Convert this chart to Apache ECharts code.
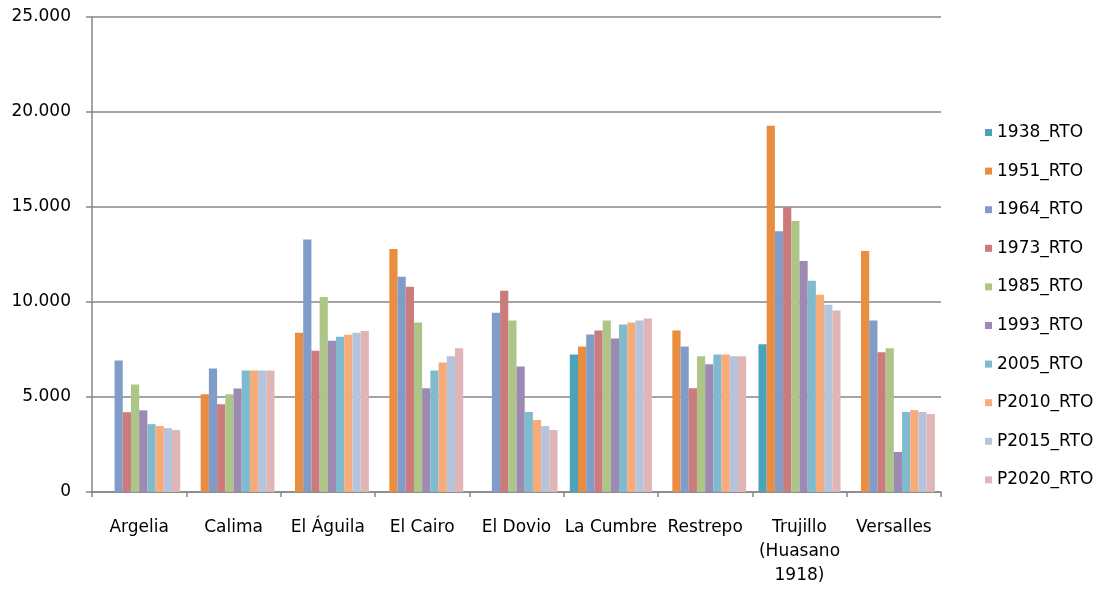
<!DOCTYPE html>
<html>
<head>
<meta charset="utf-8">
<script src="https://cdn.jsdelivr.net/npm/echarts@6/dist/echarts.min.js"></script>
<style>
html,body{margin:0;padding:0;background:#fff;}
#chart{width:1099px;height:590px;}
</style>
</head>
<body>
<div id="chart"></div>
<script>
const categories = ['Argelia','Calima','El Águila','El Cairo','El Dovio','La Cumbre','Restrepo','Trujillo\n(Huasano\n1918)','Versalles'];
const seriesNames = ['1938_RTO','1951_RTO','1964_RTO','1973_RTO','1985_RTO','1993_RTO','2005_RTO','P2010_RTO','P2015_RTO','P2020_RTO'];
const yTicks = [0, 5000, 10000, 15000, 20000, 25000];

const s1938  = [null, null, null, null, null, 7240, null, 7770, null];
const s1951  = [null, 5140, 8380, 12790, null, 7660, 8500, 19280, 12690];
const s1964  = [6920, 6500, 13290, 11330, 9440, 8290, 7660, 13730, 9020];
const s1973  = [4200, 4620, 7440, 10800, 10590, 8500, 5460, 14990, 7350];
const s1985  = [5660, 5140, 10260, 8920, 9020, 9020, 7140, 14260, 7560];
const s1993  = [4300, 5450, 7960, 5460, 6610, 8080, 6720, 12160, 2110];
const s2005  = [3570, 6390, 8170, 6400, 4210, 8810, 7240, 11120, 4210];
const sP2010 = [3470, 6390, 8270, 6820, 3790, 8920, 7240, 10380, 4310];
const sP2015 = [3360, 6390, 8380, 7140, 3470, 9020, 7140, 9860, 4210];
const sP2020 = [3260, 6390, 8480, 7560, 3260, 9130, 7140, 9550, 4100];

const seriesData = [s1938, s1951, s1964, s1973, s1985, s1993, s2005, sP2010, sP2015, sP2020];
const colors = ['#4AA3BB','#E98D41','#7F9DC8','#CB7B7B','#ADC687','#9D8AB2','#7FBACE','#F7AB78','#B6C3DD','#DFB5B5'];

const FONT = 'DejaVu Sans';
const chart = echarts.init(document.getElementById('chart'), null, {renderer:'canvas'});

function fmt(v){
  if (v === 0) return '0';
  return (v/1000).toFixed(3);
}

chart.setOption({
  animation: false,
  color: colors,
  textStyle: {fontFamily: FONT},
  grid: {left: 92, right: 158, top: 17, bottom: 98, containLabel: false},
  legend: {
    orient: 'vertical',
    left: 980,
    top: 117.5,
    itemWidth: 7,
    itemHeight: 7,
    itemGap: 18.6,
    icon: 'rect',
    data: seriesNames,
    textStyle: {fontFamily: FONT, fontSize: 17, color: '#000', lineHeight: 20}
  },
  xAxis: {
    type: 'category',
    data: categories,
    boundaryGap: true,
    axisLine: {show: true, lineStyle: {color: '#868686', width: 1.5}},
    axisTick: {show: true, length: 5, alignWithLabel: false, lineStyle: {color: '#868686', width: 1.5}},
    axisLabel: {fontFamily: FONT, fontSize: 17, color: '#000', margin: 24, lineHeight: 24, interval: 0}
  },
  yAxis: {
    type: 'value',
    min: yTicks[0],
    max: yTicks[yTicks.length-1],
    interval: 5000,
    axisLine: {show: true, lineStyle: {color: '#868686', width: 1.5}},
    axisTick: {show: true, length: 6, lineStyle: {color: '#868686', width: 1.5}},
    splitLine: {show: true, lineStyle: {color: '#868686', width: 1.5}},
    axisLabel: {fontFamily: FONT, fontSize: 17, color: '#000', margin: 21, formatter: fmt}
  },
  series: seriesNames.map((n, i) => ({
    name: n,
    type: 'bar',
    data: seriesData[i],
    barGap: '0%',
    barCategoryGap: '13%',
    itemStyle: {color: colors[i]}
  }))
});
</script>
</body>
</html>
